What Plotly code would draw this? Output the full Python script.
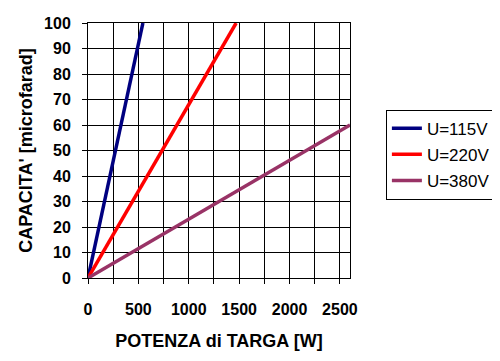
import plotly.graph_objects as go

series_names = ["U=115V", "U=220V", "U=380V"]
series_x = [[0, 545], [0, 1470], [0, 2600]]
series_y = [[0, 100], [0, 100], [0, 60]]
colors = ["#000080", "#FF0000", "#993366"]

x_tickvals = list(range(0, 2751, 250))
x_ticktext = [str(v) if v % 500 == 0 else "" for v in x_tickvals]
y_tickvals = list(range(0, 101, 10))

fig = go.Figure()
for name, xs, ys, c in zip(series_names, series_x, series_y, colors):
    fig.add_trace(go.Scatter(x=xs, y=ys, mode="lines", name=name, legendgroup=name,
                             line=dict(color=c, width=3.5)))

font_family = "Liberation Sans, Arial, sans-serif"
fig.update_layout(
    width=500, height=361,
    margin=dict(l=80, r=158, t=15, b=91),
    paper_bgcolor="white", plot_bgcolor="white",
    font=dict(family=font_family, color="black"),
    showlegend=True,
    legend=dict(x=1.137, y=0.66, xanchor="left", yanchor="top",
                bordercolor="black", borderwidth=1,
                font=dict(size=17, family=font_family),
                tracegroupgap=1, itemwidth=30),
    xaxis=dict(range=[0, 2600], tickvals=x_tickvals, ticktext=x_ticktext,
               showgrid=True, gridcolor="black", gridwidth=1,
               showline=True, linecolor="black", linewidth=1, mirror=True,
               ticks="outside", ticklen=5, tickcolor="black",
               tickfont=dict(size=16, family=font_family, weight="bold"),
               ticklabelstandoff=12,
               zeroline=False, automargin=False,
               title=dict(text="<b>POTENZA di TARGA [W]</b>", font=dict(size=18), standoff=17)),
    yaxis=dict(range=[0, 100], tickvals=y_tickvals,
               showgrid=True, gridcolor="black", gridwidth=1,
               showline=True, linecolor="black", linewidth=1, mirror=True,
               ticks="outside", ticklen=5, tickcolor="black",
               tickfont=dict(size=16, family=font_family, weight="bold"),
               ticklabelstandoff=8,
               zeroline=False, automargin=False,
               title=dict(text="<b>CAPACITA' [microfarad]</b>", font=dict(size=18), standoff=6)),
)
fig.write_html("out.html")
